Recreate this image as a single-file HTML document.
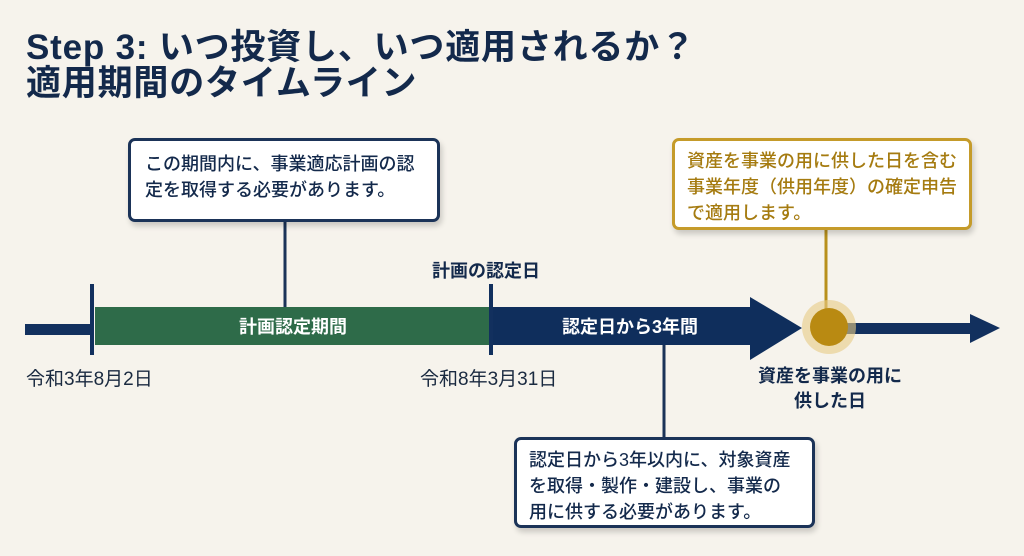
<!DOCTYPE html>
<html><head><meta charset="utf-8"><style>
*{margin:0;padding:0;box-sizing:border-box}
body{width:1024px;height:556px;background:#f6f3ec;position:relative;overflow:hidden;font-family:"Liberation Sans","Noto Sans CJK JP",sans-serif;color:#13294b}
.a{position:absolute}
.t{font-weight:bold;font-size:35px;line-height:36px;left:26px;white-space:nowrap;color:#13294b;letter-spacing:0.8px}
.box{position:absolute;background:#fff;border:3px solid #1b3358;border-radius:7px;box-shadow:2px 4px 6px rgba(0,0,0,.18);font-size:18px;line-height:26px;padding:10px 12px;white-space:nowrap;font-weight:500}
.lbl{position:absolute;font-size:18px;font-weight:bold;white-space:nowrap;color:#13294b}
.lbl2{position:absolute;font-size:19px;white-space:nowrap;color:#1a2a40}
</style></head><body>
<div class="a t" style="top:30px">Step 3: いつ投資し、いつ適用されるか？</div>
<div class="a t" style="top:66px">適用期間のタイムライン</div>

<svg class="a" style="left:0;top:0" width="1024" height="556">
<line x1="285" y1="220" x2="285" y2="308" stroke="#1b3358" stroke-width="3"/>
<line x1="664" y1="345" x2="664" y2="437" stroke="#1b3358" stroke-width="3"/>
<line x1="826" y1="228" x2="826" y2="312" stroke="#b8901c" stroke-width="3"/>
<rect x="25" y="324" width="68" height="11" fill="#12305e"/>
<rect x="95" y="307" width="396" height="38" fill="#2e6b49"/>
<rect x="491" y="307" width="262" height="38" fill="#0f2e5c"/>
<polygon points="750,297 802,328 750,360" fill="#0f2e5c"/>
<rect x="830" y="323" width="142" height="11" fill="#12305e"/>
<polygon points="970,314 1000,328 970,343" fill="#12305e"/>
<circle cx="829" cy="327" r="27" fill="#e7cc86" opacity=".6"/>
<circle cx="829" cy="327" r="19" fill="#b98a12"/>
<line x1="92" y1="284" x2="92" y2="355" stroke="#12305e" stroke-width="4"/>
<line x1="491" y1="284" x2="491" y2="355" stroke="#12305e" stroke-width="4"/>
</svg>

<div class="box" style="left:128px;top:138px;width:312px;height:84px;padding:10px 14px">この期間内に、事業適応計画の認<br>定を取得する必要があります。</div>
<div class="box" style="left:514px;top:437px;width:301px;height:91px;padding:7px 12px">認定日から3年以内に、対象資産<br>を取得・製作・建設し、事業の<br>用に供する必要があります。</div>
<div class="box" style="left:672px;top:138px;width:300px;height:92px;padding:7px 12px;border-color:#c59b2a;color:#a57b10">資産を事業の用に供した日を含む<br>事業年度（供用年度）の確定申告<br>で適用します。</div>

<div class="a" style="left:95px;top:313px;width:396px;text-align:center;color:#fff;font-weight:bold;font-size:18px">計画認定期間</div>
<div class="a" style="left:555px;top:313px;width:150px;text-align:center;color:#fff;font-weight:bold;font-size:18px;white-space:nowrap">認定日から3年間</div>
<div class="lbl" style="left:432px;top:257px">計画の認定日</div>
<div class="lbl2" style="left:26px;top:364px">令和3年8月2日</div>
<div class="lbl2" style="left:420px;top:364px">令和8年3月31日</div>
<div class="lbl" style="left:730px;top:364px;width:200px;text-align:center;line-height:25px">資産を事業の用に<br>供した日</div>
</body></html>
